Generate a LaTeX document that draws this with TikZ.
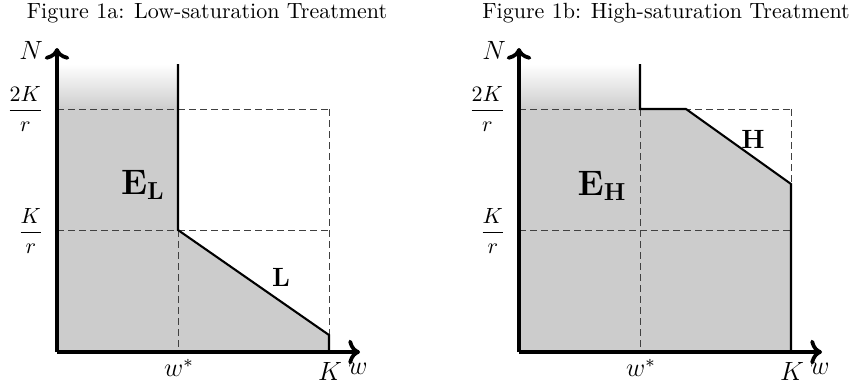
\documentclass[tikz,border=0pt]{standalone}
\usepackage{amsmath}
\usetikzlibrary{arrows.meta}
\begin{document}
\begin{tikzpicture}[x=0.4545pt,y=-0.4545pt,
  axis/.style={line width=1.7pt,->},
  bound/.style={line width=0.95pt,line join=miter},
  guide/.style={black!75,line width=0.45pt,dash pattern=on 3pt off 2pt},
  lbl/.style={inner sep=0pt},
  axlbl/.style={inner sep=0pt,font=\large},
  reglbl/.style={inner sep=0pt},
  seglbl/.style={inner sep=0pt,font=\large}]
\useasboundingbox (0,0) rectangle (861,388);
\definecolor{regiongray}{gray}{0.8}
% titles
\node[lbl] (t1) at (207,13) {Figure 1a: Low-saturation Treatment};
\node[lbl] (t2) at (666,13) {Figure 1b: High-saturation Treatment};
% ---------- Figure 1a ----------
\coordinate (Oa) at (57,352);
\coordinate (Ya) at (57,48);
\coordinate (Xa) at (360,352);
\fill[regiongray] (57,352) -- (57,64) -- (178,64) -- (178,230) -- (329,335) -- (329,352) -- cycle;
\shade[top color=white,bottom color=regiongray] (57,64) rectangle (178,110);
\draw[guide] (57,109) -- (329,109);
\draw[guide] (57,230) -- (329,230);
\draw[guide] (178,230) -- (178,352);
\draw[guide] (329,109) -- (329,335);
\coordinate (a1) at (178,64);
\coordinate (a2) at (178,230);
\coordinate (a3) at (329,335);
\coordinate (a4) at (329,352);
\draw[bound] (a1) -- (a2) -- (a3) -- (a4);
\draw[axis] (Oa) -- (Ya);
\draw[axis] (Oa) -- (Xa);
\node[axlbl] (Na) at (31,50) {$N$};
\node[lbl,anchor=east] (f2a) at (44,109) {$\dfrac{2K}{r}$};
\node[lbl,anchor=east] (f1a) at (44,231) {$\dfrac{K}{r}$};
\node[axlbl] (wsa) at (179,368) {$w^*$};
\node[axlbl] (Ka) at (330,371) {$K$};
\node[axlbl] (wa) at (358,369) {$w$};
\node[reglbl] (ELa) at (143,185) {\scalebox{0.93}{\LARGE $\mathbf{E_L}$}};
\node[seglbl] (La) at (281,277) {$\mathbf{L}$};
% ---------- Figure 1b ----------
\coordinate (Ob) at (519,352);
\coordinate (Yb) at (519,48);
\coordinate (Xb) at (822,352);
\fill[regiongray] (519,352) -- (519,64) -- (640,64) -- (640,109) -- (686,109) -- (791,184) -- (791,352) -- cycle;
\shade[top color=white,bottom color=regiongray] (519,64) rectangle (640,110);
\draw[guide] (519,109) -- (791,109);
\draw[guide] (519,230) -- (791,230);
\draw[guide] (640,109) -- (640,352);
\draw[guide] (791,109) -- (791,184);
\coordinate (b1) at (640,64);
\coordinate (b2) at (640,109);
\coordinate (b3) at (686,109);
\coordinate (b4) at (791,184);
\coordinate (b5) at (791,352);
\draw[bound] (b1) -- (b2) -- (b3) -- (b4) -- (b5);
\draw[axis] (Ob) -- (Yb);
\draw[axis] (Ob) -- (Xb);
\node[axlbl] (Nb) at (494,50) {$N$};
\node[lbl,anchor=east] (f2b) at (506,109) {$\dfrac{2K}{r}$};
\node[lbl,anchor=east] (f1b) at (506,231) {$\dfrac{K}{r}$};
\node[axlbl] (wsb) at (641,368) {$w^*$};
\node[axlbl] (Kb) at (792,371) {$K$};
\node[axlbl] (wb) at (820,369) {$w$};
\node[reglbl] (EHb) at (602,186) {\scalebox{0.93}{\LARGE $\mathbf{E_H}$}};
\node[seglbl] (Hb) at (753,139) {$\mathbf{H}$};
\end{tikzpicture}
\end{document}
